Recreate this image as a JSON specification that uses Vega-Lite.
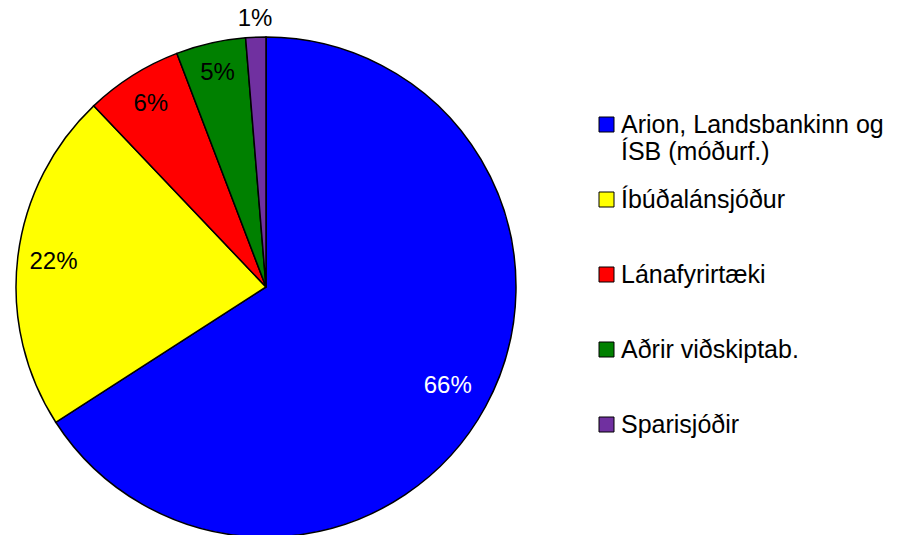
{
  "$schema": "https://vega.github.io/schema/vega-lite/v6.json",
  "width": 500,
  "height": 574,
  "padding": {"left": 13, "top": 0, "right": 0, "bottom": 0},
  "autosize": "pad",
  "background": "white",
  "view": {"stroke": null},
  "config": {"font": "Liberation Sans"},
  "data": {"values": [
    {"name": "Arion, Landsbankinn og ÍSB (móðurf.)", "value": 65.9, "label": "66%", "order": 1},
    {"name": "Íbúðalánsjóður", "value": 22.0, "label": "22%", "order": 2},
    {"name": "Lánafyrirtæki", "value": 6.3, "label": "6%", "order": 3},
    {"name": "Aðrir viðskiptab.", "value": 4.5, "label": "5%", "order": 4},
    {"name": "Sparisjóðir", "value": 1.3, "label": "1%", "order": 5}
  ]},
  "encoding": {
    "theta": {"field": "value", "type": "quantitative", "stack": true},
    "order": {"field": "order", "type": "quantitative"}
  },
  "layer": [
    {
      "mark": {"type": "arc", "stroke": "black", "strokeWidth": 1.5},
      "encoding": {
        "color": {
          "field": "name",
          "type": "nominal",
          "scale": {
            "domain": ["Arion, Landsbankinn og ÍSB (móðurf.)", "Íbúðalánsjóður", "Lánafyrirtæki", "Aðrir viðskiptab.", "Sparisjóðir"],
            "range": ["#0000FF", "#FFFF00", "#FF0000", "#008000", "#7030A0"]
          },
          "legend": {
            "title": null,
            "orient": "none",
            "legendX": 578,
            "legendY": 112,
            "padding": 0,
            "gridAlign": "all",
            "symbolType": "square",
            "symbolSize": 225,
            "symbolStrokeColor": "black",
            "symbolStrokeWidth": 1,
            "labelFont": "Liberation Sans",
            "labelFontSize": 25,
            "labelColor": "black",
            "labelLimit": 400,
            "labelOffset": 2,
            "rowPadding": 22,
            "labelExpr": "datum.label == 'Arion, Landsbankinn og ÍSB (móðurf.)' ? ['Arion, Landsbankinn og', 'ÍSB (móðurf.)'] : datum.label"
          }
        }
      }
    },
    {
      "mark": {
        "type": "text",
        "fontSize": 24,
        "font": "Liberation Sans",
        "radius": {"expr": "datum.order == 1 ? 207 : datum.order == 2 ? 214 : datum.order == 3 ? 216 : datum.order == 4 ? 219 : 268"}
      },
      "encoding": {
        "text": {"field": "label", "type": "nominal"},
        "color": {
          "condition": {"test": "datum.order == 1", "value": "white"},
          "value": "black"
        }
      }
    }
  ]
}
